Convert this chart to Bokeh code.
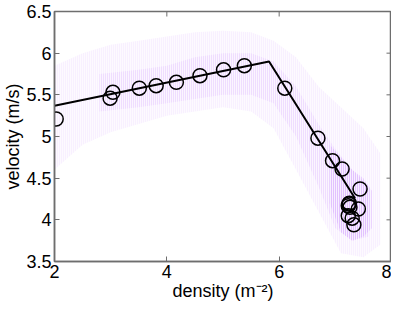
import math
from bokeh.plotting import figure
from bokeh.models import FixedTicker, Range1d
from bokeh.embed import file_html
from bokeh.resources import INLINE

# measured means (circles)
density = [2.03, 2.99, 3.04, 3.51, 3.81, 4.17, 4.59, 5.01, 5.38, 6.10,
           6.69, 6.95, 7.12, 7.44, 7.25, 7.23, 7.26, 7.24, 7.41, 7.23, 7.30, 7.33]
velocity = [5.21, 5.46, 5.53, 5.58, 5.61, 5.65, 5.73, 5.80, 5.85, 5.58,
            4.98, 4.71, 4.61, 4.37, 4.20, 4.17, 4.15, 4.19, 4.13, 4.05, 4.02, 3.94]

# piecewise-linear fit
fit_density = [2.0, 5.82, 7.35]
fit_velocity = [5.37, 5.90, 4.26]

# raw-sample cloud envelope (outer, core, dense cluster)
cloud_x = [2.0, 2.5, 3.0, 3.5, 4.0, 4.5, 5.0, 5.5, 5.9, 6.3, 6.7, 7.1, 7.5, 7.8]
cloud_hi = [5.85, 6.0, 6.1, 6.15, 6.2, 6.25, 6.27, 6.25, 6.15, 5.95, 5.6, 5.35, 5.1, 4.8]
cloud_lo = [4.6, 4.9, 5.05, 5.15, 5.25, 5.3, 5.35, 5.3, 5.1, 4.6, 4.1, 3.6, 3.55, 3.7]
core_x = [2.8, 3.5, 4.0, 4.5, 5.0, 5.5, 5.9, 6.3, 6.7, 7.0, 7.3, 7.6]
core_hi = [5.75, 5.8, 5.85, 5.95, 6.0, 6.0, 5.9, 5.6, 5.15, 4.85, 4.6, 4.4]
core_lo = [5.3, 5.35, 5.4, 5.45, 5.5, 5.5, 5.4, 5.0, 4.4, 3.9, 3.75, 3.8]
dense_x = [6.9, 7.1, 7.3, 7.5, 7.65]
dense_hi = [4.9, 4.75, 4.6, 4.5, 4.35]
dense_lo = [4.2, 3.85, 3.75, 3.8, 3.9]

x_ticks = [2, 4, 6, 8]
y_ticks = [3.5, 4, 4.5, 5, 5.5, 6, 6.5]

FONT = "Liberation Sans"
AX = "#6e6e6e"
VIOLET = "#a030ff"

p = figure(width=391, height=305, output_backend="svg", toolbar_location=None,
           x_range=Range1d(2, 8), y_range=Range1d(3.5, 6.5),
           min_border_left=49, min_border_right=0, min_border_top=11, min_border_bottom=44)
p.grid.visible = False
p.outline_line_color = AX
p.outline_line_width = 1.5
p.background_fill_color = "white"
p.border_fill_color = "white"

p.varea(x=cloud_x, y1=cloud_lo, y2=cloud_hi, fill_color="#ecd4ff", fill_alpha=0.12,
        hatch_pattern="|", hatch_scale=2, hatch_weight=1, hatch_color=VIOLET, hatch_alpha=0.1)
p.varea(x=core_x, y1=core_lo, y2=core_hi, fill_color="#ecd4ff", fill_alpha=0.12,
        hatch_pattern="|", hatch_scale=2, hatch_weight=1, hatch_color=VIOLET, hatch_alpha=0.16)
p.varea(x=dense_x, y1=dense_lo, y2=dense_hi, fill_color="#ecd4ff", fill_alpha=0.15,
        hatch_pattern="|", hatch_scale=2, hatch_weight=1, hatch_color=VIOLET, hatch_alpha=0.3)

p.line(fit_density, fit_velocity, line_color="black", line_width=2)
p.scatter(density, velocity, marker="circle", size=14, fill_color=None,
          line_color="black", line_width=1.5)

# inward ticks on top and right edges (box style)
p.scatter(x=x_ticks, y=[6.5] * len(x_ticks), marker="dash", angle=math.pi / 2,
          size=10, line_color=AX, line_width=1)
p.scatter(x=[8] * len(y_ticks), y=y_ticks, marker="dash",
          size=10, line_color=AX, line_width=1)

for ax in (p.xaxis[0], p.yaxis[0]):
    ax.major_tick_in = 5
    ax.major_tick_out = 0
    ax.minor_tick_in = 0
    ax.minor_tick_out = 0
    ax.axis_line_color = AX
    ax.axis_line_width = 1.5
    ax.major_tick_line_color = AX
    ax.major_label_text_font = FONT
    ax.major_label_text_font_size = "18px"
    ax.major_label_text_color = "black"
    ax.axis_label_text_font = FONT
    ax.axis_label_text_font_size = "18px"
    ax.axis_label_text_font_style = "normal"
    ax.axis_label_text_color = "black"
    ax.major_label_standoff = 3
    ax.axis_label_standoff = 0

p.xaxis[0].ticker = FixedTicker(ticks=x_ticks)
p.yaxis[0].ticker = FixedTicker(ticks=y_ticks)
p.yaxis[0].major_label_overrides = {3.5: "3.5", 4: "4", 4.5: "4.5", 5: "5", 5.5: "5.5", 6: "6", 6.5: "6.5"}
p.xaxis[0].axis_label = "density (m⁻²)"
p.yaxis[0].axis_label = "velocity (m/s)"

open("out.html", "w").write(file_html(p, INLINE))
